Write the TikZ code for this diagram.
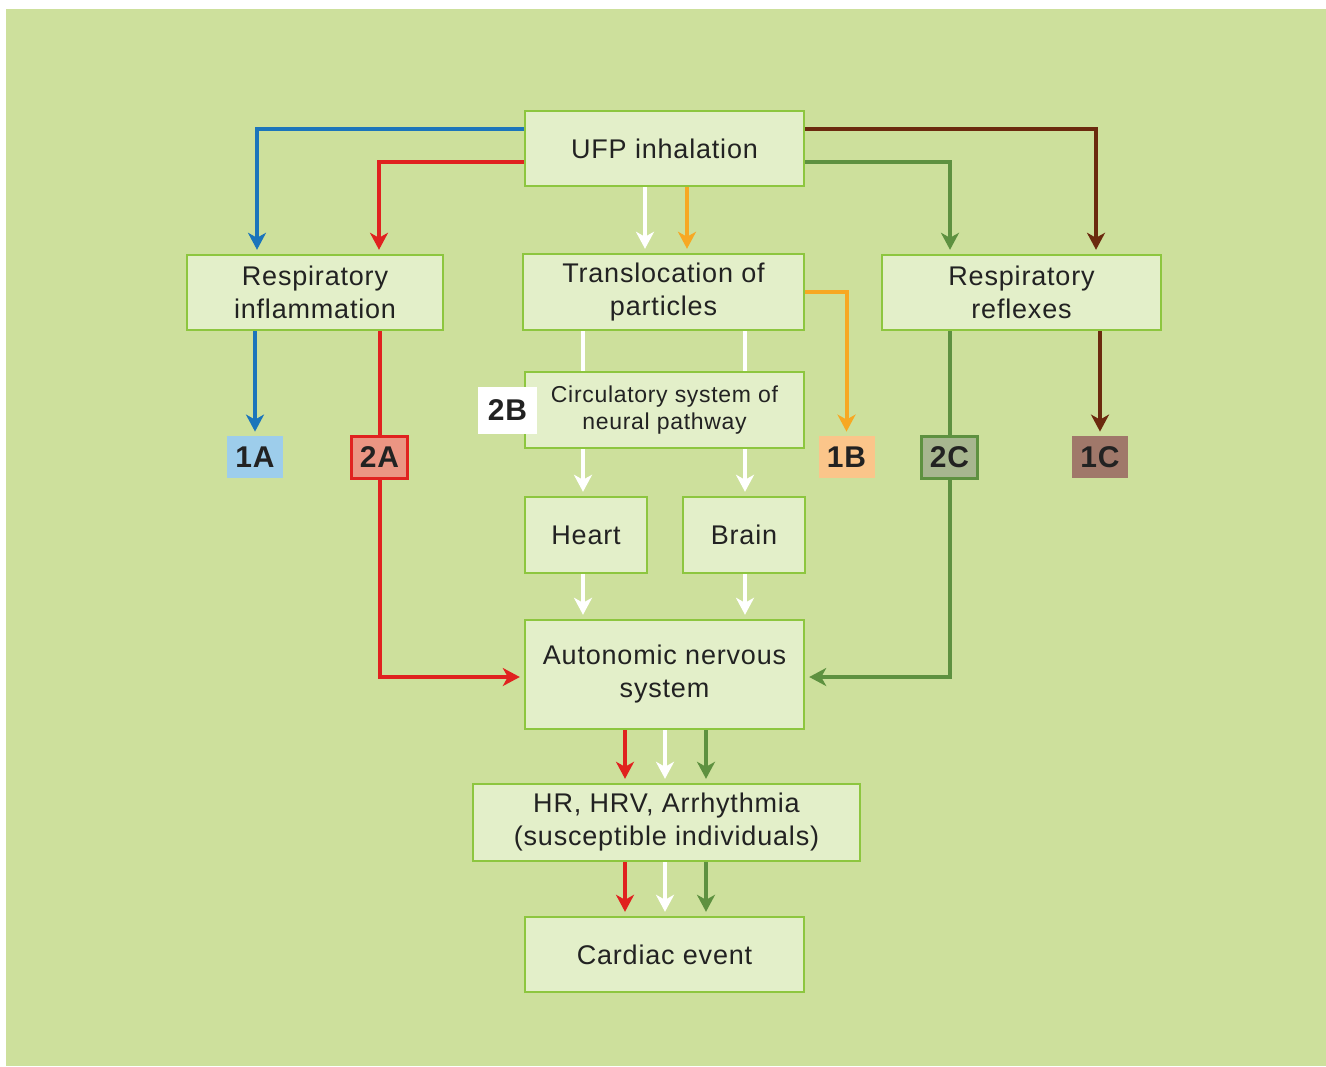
\documentclass[tikz,border=0pt]{standalone}
\usepackage{fontspec}
\setmainfont[LetterSpace=3]{Liberation Sans}
\usetikzlibrary{arrows.meta,calc}
\definecolor{bgc}{RGB}{205,224,156}
\definecolor{boxfill}{RGB}{227,239,201}
\definecolor{boxborder}{RGB}{141,198,63}
\definecolor{txt}{RGB}{34,34,34}
\definecolor{cblue}{RGB}{27,117,187}
\definecolor{cred}{RGB}{224,34,31}
\definecolor{corange}{RGB}{247,168,35}
\definecolor{cgreen}{RGB}{94,145,64}
\definecolor{cbrown}{RGB}{107,42,14}
\definecolor{f1a}{RGB}{157,205,235}
\definecolor{f2a}{RGB}{235,149,131}
\definecolor{f1b}{RGB}{251,197,138}
\definecolor{f2c}{RGB}{167,182,143}
\definecolor{f1c}{RGB}{160,120,106}
\pgfdeclarelayer{bg}
\pgfdeclarelayer{lines}
\pgfsetlayers{bg,lines,main}
\begin{document}
\begin{tikzpicture}[x=0.5pt,y=-0.5pt,
  box/.style={draw=boxborder, line width=1.2pt, fill=boxfill, align=center, inner sep=0pt,
    font=\fontsize{13.5}{16.5}\selectfont, text=txt},
  lab/.style={inner sep=0pt, font=\bfseries\fontsize{15}{15}\selectfont, text=txt,
    minimum width=28pt, minimum height=21pt},
  con/.style={line width=2pt, -{Stealth[length=8.5pt,width=9pt,inset=2.5pt]}, shorten >=2pt},
  plain/.style={line width=2pt}]
\useasboundingbox (0,0) rectangle (1326,1066);
\begin{pgfonlayer}{bg}
\fill[bgc] (6,9) rectangle (1326,1066);
\end{pgfonlayer}
% main boxes
\node[box, minimum width=139.5pt, minimum height=37.5pt] (ufp) at (664.5,148.5) {UFP inhalation};
\node[box, minimum width=128pt, minimum height=37.5pt] (ri) at (315,292.5) {Respiratory\\inflammation};
\node[box, minimum width=140.5pt, minimum height=38pt] (tr) at (663.5,292) {Translocation of\\particles};
\node[box, minimum width=139.5pt, minimum height=37.5pt] (rr) at (1021.5,292.5) {Respiratory\\reflexes};
\node[box, minimum width=139.5pt, minimum height=38pt, font=\fontsize{11.5}{13.5}\selectfont] (circ) at (664.5,410) {Circulatory system of\\neural pathway};
\node[box, minimum width=61pt, minimum height=38pt] (heart) at (586,535) {Heart};
\node[box, minimum width=61pt, minimum height=38pt] (brain) at (744,535) {Brain};
\node[box, minimum width=139.5pt, minimum height=54.5pt] (ans) at (664.5,674.5) {Autonomic nervous\\system};
\node[box, minimum width=193.5pt, minimum height=38.5pt] (hr) at (666.5,822.5) {HR, HRV, Arrhythmia\\(susceptible individuals)};
\node[box, minimum width=139.5pt, minimum height=37.5pt] (ce) at (664.5,954.5) {Cardiac event};
% labels
\node[lab, fill=f1a] (l1a) at (255,457) {1A};
\node[lab, fill=f2a, draw=cred, line width=1.3pt] (l2a) at (379.5,457.5) {2A};
\node[lab, fill=f1b] (l1b) at (846.5,457) {1B};
\node[lab, fill=f2c, draw=cgreen, line width=1.3pt] (l2c) at (949.5,457.5) {2C};
\node[lab, fill=f1c] (l1c) at (1100,457) {1C};
\node[lab, fill=white, minimum width=29.5pt, minimum height=23.5pt] (l2b) at (507.5,410.5) {2B};
% connectors
\begin{pgfonlayer}{lines}
\draw[con,cblue] (ufp.west |- 0,129) -| (ri.north -| 257,0);
\draw[con,cred] (ufp.west |- 0,162) -| (ri.north -| 379,0);
\draw[con,white] (ufp.south -| 645,0) -- (tr.north -| 645,0);
\draw[con,corange] (ufp.south -| 687,0) -- (tr.north -| 687,0);
\draw[con,cgreen] (ufp.east |- 0,162) -| (rr.north -| 950,0);
\draw[con,cbrown] (ufp.east |- 0,129) -| (rr.north -| 1096,0);
\draw[con,cblue] (ri.south -| l1a.north) -- (l1a.north);
\draw[con,cred] (ri.south -| l2a.north) -- (l2a.center) |- (ans.west |- 0,677);
\draw[con,corange] (tr.east |- 0,292) -| (l1b.north);
\draw[con,cgreen] (rr.south -| l2c.north) -- (l2c.center) |- (ans.east |- 0,677);
\draw[con,cbrown] (rr.south -| l1c.north) -- (l1c.north);
\draw[plain,white] (tr.south -| 583,0) -- (circ.north -| 583,0);
\draw[plain,white] (tr.south -| 745,0) -- (circ.north -| 745,0);
\draw[con,white] (circ.south -| 583,0) -- (heart.north -| 583,0);
\draw[con,white] (circ.south -| 745,0) -- (brain.north -| 745,0);
\draw[con,white] (heart.south -| 583,0) -- (ans.north -| 583,0);
\draw[con,white] (brain.south -| 745,0) -- (ans.north -| 745,0);
\draw[con,cred] (ans.south -| 625,0) -- (hr.north -| 625,0);
\draw[con,white] (ans.south -| 665,0) -- (hr.north -| 665,0);
\draw[con,cgreen] (ans.south -| 706,0) -- (hr.north -| 706,0);
\draw[con,cred] (hr.south -| 625,0) -- (ce.north -| 625,0);
\draw[con,white] (hr.south -| 665,0) -- (ce.north -| 665,0);
\draw[con,cgreen] (hr.south -| 706,0) -- (ce.north -| 706,0);
\end{pgfonlayer}
\end{tikzpicture}
\end{document}
